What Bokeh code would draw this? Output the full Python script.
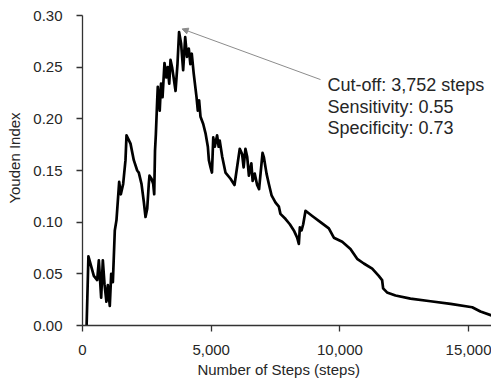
from bokeh.plotting import figure
from bokeh.models import (Range1d, FixedTicker, NumeralTickFormatter, Label,
                          Arrow, NormalHead, ColumnDataSource)
from bokeh.embed import file_html
from bokeh.resources import INLINE

steps = [160, 230, 440, 570, 635, 725, 790, 855, 930, 985, 1060, 1115, 1180,
         1255, 1320, 1425, 1490, 1580, 1670, 1710, 1865, 1993, 2125, 2187,
         2292, 2381, 2448, 2514, 2576, 2603, 2681, 2747, 2786, 2817, 2850,
         2902, 2925, 3000, 3050, 3110, 3185, 3260, 3310, 3370, 3420, 3480,
         3540, 3615, 3690, 3752, 3830, 3910, 3990, 4060, 4130, 4190, 4245,
         4320, 4430, 4480, 4530, 4585, 4690, 4780, 4870, 4910, 4975, 5030,
         5080, 5140, 5230, 5290, 5330, 5430, 5555, 5750, 5905, 6110, 6200,
         6260, 6330, 6400, 6465, 6560, 6610, 6690, 6785, 6860, 6995, 7045,
         7150, 7240, 7345, 7500, 7630, 7690, 7890, 8055, 8210, 8340, 8405,
         8445, 8510, 8575, 8665, 8925, 9245, 9570, 9765, 10090, 10410, 10670,
         10930, 11255, 11510, 11640, 11680, 11830, 12160, 12740, 13520, 14300,
         15140, 15460, 15890]
youden = [0.0, 0.067, 0.048, 0.044, 0.063, 0.027, 0.063, 0.040, 0.023, 0.039,
          0.019, 0.050, 0.042, 0.092, 0.102, 0.139, 0.127, 0.137, 0.160,
          0.184, 0.176, 0.160, 0.150, 0.148, 0.137, 0.120, 0.105, 0.113,
          0.137, 0.145, 0.142, 0.137, 0.127, 0.169, 0.185, 0.218, 0.231,
          0.208, 0.234, 0.221, 0.254, 0.240, 0.250, 0.234, 0.257, 0.250,
          0.240, 0.227, 0.253, 0.284, 0.273, 0.247, 0.279, 0.260, 0.268,
          0.253, 0.263, 0.244, 0.221, 0.208, 0.218, 0.202, 0.195, 0.186,
          0.173, 0.160, 0.153, 0.148, 0.182, 0.173, 0.184, 0.173, 0.179,
          0.163, 0.148, 0.142, 0.136, 0.171, 0.166, 0.153, 0.171, 0.163,
          0.145, 0.157, 0.140, 0.147, 0.136, 0.132, 0.167, 0.163, 0.147,
          0.137, 0.126, 0.119, 0.115, 0.108, 0.103, 0.098, 0.092, 0.085,
          0.079, 0.095, 0.092, 0.098, 0.111, 0.106, 0.100, 0.094, 0.085,
          0.081, 0.074, 0.0645, 0.060, 0.055, 0.048, 0.044, 0.036, 0.032,
          0.029, 0.026, 0.0235, 0.021, 0.0177, 0.0135, 0.0097]

x_ticks = [0, 5000, 10000, 15000]
y_ticks = [0.0, 0.05, 0.10, 0.15, 0.20, 0.25, 0.30]
annotation_lines = ["Cut-off: 3,752 steps", "Sensitivity: 0.55", "Specificity: 0.73"]
x_title = "Number of Steps (steps)"
y_title = "Youden Index"

FONT = "Liberation Sans"
TXT = "#262626"
AX = "#333333"
NB = "\u00a0"

p = figure(width=491, height=380, output_backend="svg", toolbar_location=None,
           x_range=Range1d(0, 15890), y_range=Range1d(0, 0.30),
           min_border_left=82, min_border_right=0, min_border_top=15,
           min_border_bottom=55)
p.outline_line_color = None
p.xgrid.grid_line_color = None
p.ygrid.grid_line_color = None
p.background_fill_color = "white"
p.border_fill_color = "white"

src = ColumnDataSource(dict(x=steps, y=youden))
p.line("x", "y", source=src, line_color="black", line_width=2.7,
       line_join="round")

for ax in (p.xaxis[0], p.yaxis[0]):
    ax.axis_line_color = AX
    ax.axis_line_width = 1.3
    ax.major_tick_line_color = AX
    ax.major_tick_line_width = 1.3
    ax.major_tick_out = 6
    ax.major_tick_in = 0
    ax.minor_tick_line_color = None
    ax.major_label_text_font = FONT
    ax.major_label_text_font_size = "15px"
    ax.major_label_text_color = TXT
    ax.axis_label_text_font = FONT
    ax.axis_label_text_font_size = "15px"
    ax.axis_label_text_font_style = "normal"
    ax.axis_label_text_color = TXT

p.xaxis[0].ticker = FixedTicker(ticks=x_ticks)
p.xaxis[0].formatter = NumeralTickFormatter(format="0,0")
p.xaxis[0].major_label_standoff = 13
p.xaxis[0].axis_label = x_title + NB * 4
p.xaxis[0].axis_label_standoff = 3

p.yaxis[0].ticker = FixedTicker(ticks=y_ticks)
p.yaxis[0].formatter = NumeralTickFormatter(format="0.00")
p.yaxis[0].major_label_standoff = 14
p.yaxis[0].axis_label = NB * 6 + y_title
p.yaxis[0].axis_label_standoff = 7

# annotation
p.add_layout(Arrow(x_start=9246, y_start=0.238, x_end=3870, y_end=0.287,
                   line_color="#8c8c8c", line_width=1,
                   end=NormalHead(size=6, fill_color="#8c8c8c",
                                  line_color="#8c8c8c")))
for i, t in enumerate(annotation_lines):
    p.add_layout(Label(x=9518, y=0.2323 - i * 0.0208, text=t, text_font=FONT,
                       text_font_size="18px", text_color=TXT,
                       text_align="left", text_baseline="middle"))

open("out.html", "w").write(file_html(p, INLINE))
